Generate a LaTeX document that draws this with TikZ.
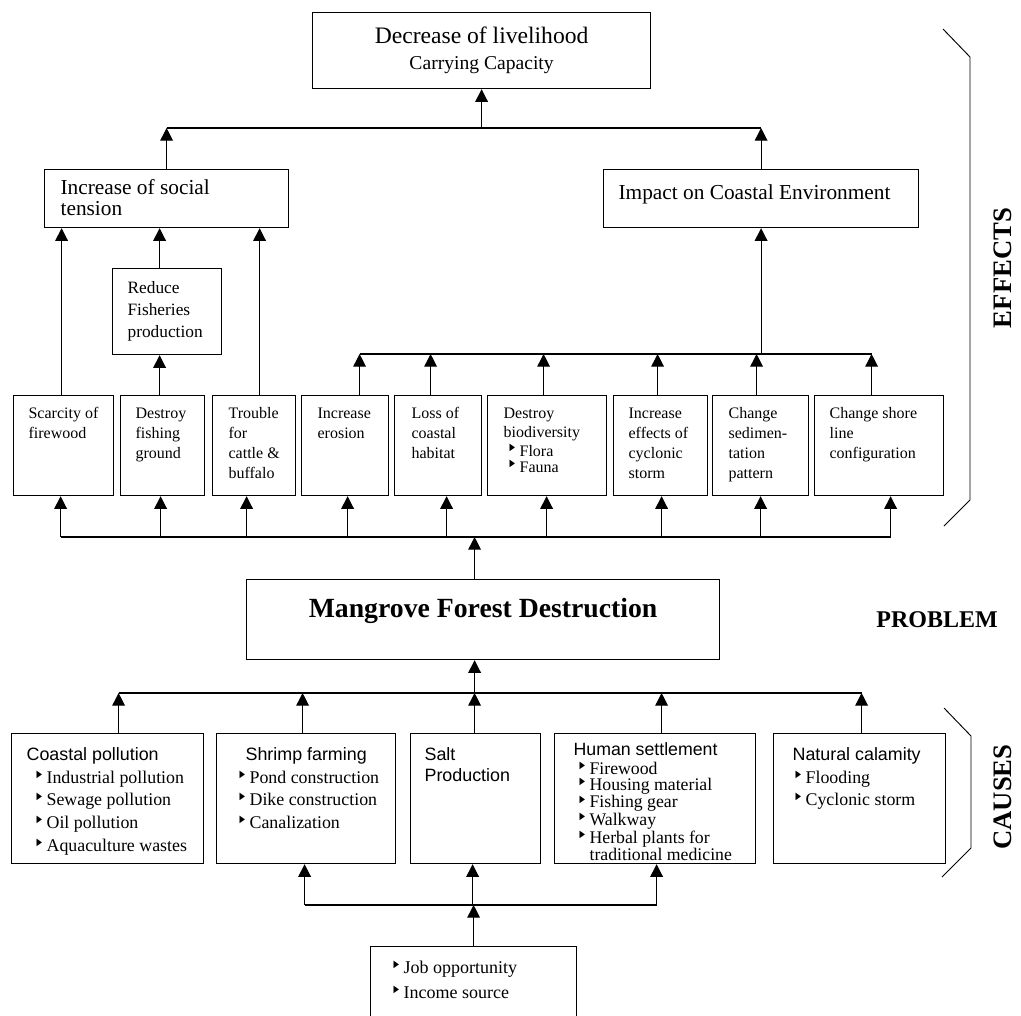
\documentclass[tikz,border=0pt]{standalone}
\usepackage{fontspec}
\usepackage{graphicx}
\setmainfont{Liberation Serif}
\newfontfamily\hfont{Liberation Sans}
\newfontfamily\symfont{DejaVu Sans}
\usetikzlibrary{positioning,calc,arrows.meta}

% one pixel of the reference
\newdimen\pxu \pxu=0.75pt
% box content: width, height, left pad, top pad (px), text
\newcommand{\cell}[5]{%
  \begin{minipage}[t][#2\pxu][t]{#1\pxu}\raggedright\leftskip=#3\pxu\relax
  \vspace*{#4\pxu}#5\par\end{minipage}}
\newcommand{\tri}{\makebox[7.5pt][l]{\raisebox{0.33em}{\scalebox{0.72}[1]{\symfont\fontsize{7.5}{7.5}\selectfont ▶}}}}
\newcommand{\efont}{\fontsize{12}{15}\selectfont}
\newcommand{\cfont}{\fontsize{13.4}{17}\selectfont}

\tikzset{
  box/.style={draw, line width=0.9pt, inner sep=0pt, anchor=north west},
  arr/.style={line width=0.9pt, -{Triangle[length=9.5pt,width=9.5pt]}},
  link/.style={line width=0.9pt},
  side/.style={font=\bfseries\fontsize{20}{20}\selectfont, rotate=90},
}

\begin{document}
\begin{tikzpicture}[x=0.75pt, y=-0.75pt]
    \useasboundingbox (0,0) rectangle (1021,1015);

    % Effects
    \node[box, font=\fontsize{17.7}{20}\selectfont] (decrease) at (312,12)
        {\cell{338}{76}{0}{14}{\centering Decrease of livelihood\\ \fontsize{14.7}{20}\selectfont Carrying Capacity}};
    \node[box, font=\fontsize{16}{15.75}\selectfont] (social) at (44,169) {\cell{244}{58}{16}{10}{Increase of social\\tension}};
    \node[box, font=\fontsize{16}{15.75}\selectfont] (impact) at (603,169) {\cell{315}{58}{15}{15}{Impact on Coastal Environment}};
    \node[box, font=\fontsize{13}{16.5}\selectfont] (reduce) at (112,268) {\cell{109}{86}{15}{13}{Reduce\\Fisheries\\production}};

    \node[box, font=\efont] (scarcity) at (13,395) {\cell{100}{100}{15}{12}{Scarcity of\\firewood}};
    \node[box, font=\efont] (fishing) at (120,395) {\cell{84}{100}{15}{12}{Destroy\\fishing\\ground}};
    \node[box, font=\efont] (cattle) at (212,395) {\cell{83}{100}{16}{12}{Trouble\\for\\cattle \&\\buffalo}};
    \node[box, font=\efont] (erosion) at (301,395) {\cell{87}{100}{16}{12}{Increase\\erosion}};
    \node[box, font=\efont] (habitat) at (394,395) {\cell{87}{100}{17}{12}{Loss of\\coastal\\habitat}};
    \node[box, font=\efont] (biodiv) at (487,395) {\cell{119}{100}{16}{12}{Destroy\\[-1\pxu] biodiversity\\[-1\pxu]
        \hspace*{6\pxu}\tri Flora\\[-4\pxu] \hspace*{6\pxu}\tri Fauna}};
    \node[box, font=\efont] (cyclone) at (613,395) {\cell{94}{100}{15}{12}{Increase\\effects of\\cyclonic\\storm}};
    \node[box, font=\efont] (sediment) at (712,395) {\cell{96}{100}{16}{12}{Change\\sedimen-\\tation\\pattern}};
    \node[box, font=\efont] (shore) at (814,395) {\cell{129}{100}{15}{12}{Change shore\\line\\configuration}};

    % Problem
    \node[box, font=\bfseries\fontsize{20.8}{24}\selectfont] (mangrove) at (246,579)
        {\cell{473}{80}{0}{19}{\centering Mangrove Forest Destruction}};

    % Causes
    \node[box, font=\cfont] (coastal) at (11,733) {\cell{192}{130}{15}{14}{{\hfont Coastal pollution}\\
        \hspace*{10\pxu}\tri Industrial pollution\\ \hspace*{10\pxu}\tri Sewage pollution\\
        \hspace*{10\pxu}\tri Oil pollution\\ \hspace*{10\pxu}\tri Aquaculture wastes}};
    \node[box, font=\cfont] (shrimp) at (216,733) {\cell{179}{130}{23}{14}{\hspace*{6\pxu}{\hfont Shrimp farming}\\
        \tri Pond construction\\ \tri Dike construction\\ \tri Canalization}};
    \node[box, font=\cfont] (salt) at (410,733) {\cell{130}{130}{14}{14}{{\hfont Salt\\[-1.5\pxu] Production}}};
    \node[box, font=\fontsize{13.3}{12}\selectfont] (human) at (554,733) {\cell{201}{130}{19}{9}{{\hfont Human settlement}\\[3\pxu]
        \hspace*{6\pxu}\tri Firewood\\ \hspace*{6\pxu}\tri Housing material\\ \hspace*{6\pxu}\tri Fishing gear\\
        \hspace*{6\pxu}\tri Walkway\\ \hspace*{6\pxu}\tri Herbal plants for\\ \hspace*{6\pxu}\hspace*{7.5pt}traditional medicine}};
    \node[box, font=\cfont] (natural) at (773,733) {\cell{172}{130}{19}{14}{{\hfont Natural calamity}\\
        \hspace*{3\pxu}\tri Flooding\\ \hspace*{3\pxu}\tri Cyclonic storm}};
    \node[box, font=\fontsize{13.5}{18.75}\selectfont] (job) at (370,946) {\cell{206}{80}{23}{14}{\tri Job opportunity\\ \tri Income source}};

    % Side labels
    \draw[line width=0.7pt] (943,29) -- (970,57) -- (970,500) -- (944,526);
    \draw[line width=0.7pt] (944,708) -- (971,736) -- (971,848) -- (942,877);
    \node[side] (effects) at (1003,268) {EFFECTS};
    \node[side] (causes) at (1003,797) {CAUSES};
    \node[font=\bfseries\fontsize{18}{18}\selectfont] (problem) at (937,620) {PROBLEM};

    % Bus levels
    \coordinate (topbus) at (0,128);
    \coordinate (midbus) at (0,354);
    \coordinate (effbus) at (0,537);
    \coordinate (causebus) at (0,693);
    \coordinate (jobbus) at (0,905);

    \foreach \n/\dt/\db in {scarcity/-2/-3, fishing/-3/-2, cattle/5.5/-7.5, erosion/14.5/2.5, habitat/-7.5/8.5,
        biodiv/-3.5/-0.5, cyclone/-3/1, sediment/-4/0, shore/-7.5/11.5}{
        \coordinate (\n-t) at ($(\n.north)+(\dt,0)$);
        \coordinate (\n-b) at ($(\n.south)+(\db,0)$);
    }
    \foreach \n/\dt in {coastal/11, shrimp/-3.5, salt/-1, human/6.5, natural/2}
        \coordinate (\n-t) at ($(\n.north)+(\dt,0)$);
    \foreach \n/\db in {shrimp/-1.5, salt/-3, human/1.5}
        \coordinate (\n-b) at ($(\n.south)+(\db,0)$);
    \coordinate (mg) at ($(mangrove.north)+(-8.5,0)$);

    % Effects tree
    \draw[arr] (decrease.south |- topbus) -- (decrease.south);
    \draw[link] (social.north |- topbus) -- (impact.north |- topbus);
    \draw[arr] (social.north) -- (social.north |- topbus);
    \draw[arr] (impact.north) -- (impact.north |- topbus);
    \draw[arr] (scarcity-t) -- (scarcity-t |- social.south);
    \draw[arr] (fishing-t) -- (fishing-t |- reduce.south);
    \draw[arr] (fishing-t |- reduce.north) -- (fishing-t |- social.south);
    \draw[arr] (cattle-t) -- (cattle-t |- social.south);
    \foreach \n in {erosion,habitat,biodiv,cyclone,sediment,shore}
        \draw[arr] (\n-t) -- (\n-t |- midbus);
    \draw[link] (erosion-t |- midbus) -- (shore-t |- midbus);
    \draw[arr] (impact.south |- midbus) -- (impact.south);

    % Problem to effects
    \draw[link] (scarcity-b |- effbus) -- (shore-b |- effbus);
    \foreach \n in {scarcity,fishing,cattle,erosion,habitat,biodiv,cyclone,sediment,shore}
        \draw[arr] (\n-b |- effbus) -- (\n-b);
    \draw[arr] (mg) -- (mg |- effbus);

    % Causes to problem
    \draw[arr] (mg |- causebus) -- (mg |- mangrove.south);
    \draw[link] (coastal-t |- causebus) -- (natural-t |- causebus);
    \foreach \n in {coastal,shrimp,salt,human,natural}
        \draw[arr] (\n-t) -- (\n-t |- causebus);

    % Job and income
    \draw[link] (shrimp-b |- jobbus) -- (human-b |- jobbus);
    \foreach \n in {shrimp,salt,human}
        \draw[arr] (\n-b |- jobbus) -- (\n-b);
    \draw[arr] (job.north) -- (job.north |- jobbus);
\end{tikzpicture}
\end{document}
